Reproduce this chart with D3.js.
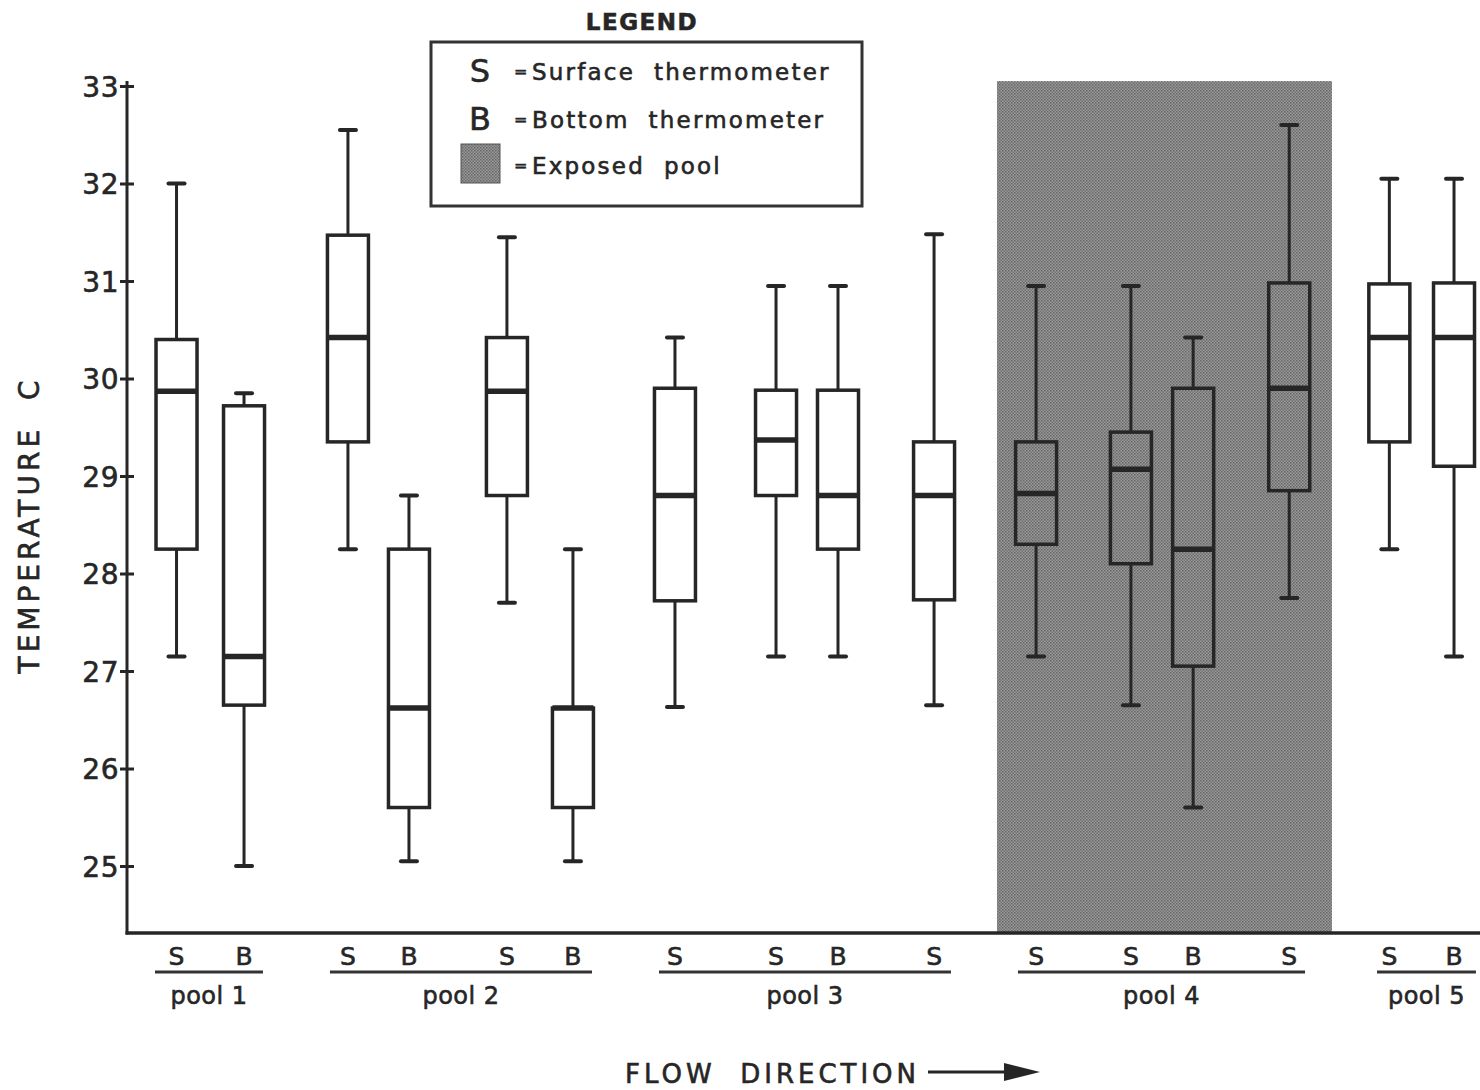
<!DOCTYPE html>
<html>
<head>
<meta charset="utf-8">
<script src="https://cdn.jsdelivr.net/npm/d3@7"></script>
<style>
  body { margin: 0; background: #fff; }
  svg text { font-family: "DejaVu Sans", sans-serif; fill: #262626; stroke: #262626; stroke-width: 0.6px; }
</style>
</head>
<body>
<div id="chart"></div>
<script>
// box data (temperature C)
var thermo   = ["S","B","S","B","S","B","S","S","B","S","S","S","B","S","S","B"];
var xPos     = [3.66, 8.65, 16.33, 20.84, 28.08, 32.96, 40.5, 47.97, 52.55, 59.65, 67.19, 74.2, 78.8, 85.9, 93.3, 98.08];
var whiskLo  = [27.15, 25.0, 28.25, 25.05, 27.7, 25.05, 26.63, 27.15, 27.15, 26.65, 27.15, 26.65, 25.6, 27.75, 28.25, 27.15];
var q1       = [28.25, 26.65, 29.35, 25.6, 28.8, 25.6, 27.72, 28.8, 28.25, 27.73, 28.3, 28.1, 27.05, 28.85, 29.35, 29.1];
var median   = [29.87, 27.15, 30.42, 26.62, 29.87, 26.62, 28.8, 29.37, 28.8, 28.8, 28.82, 29.07, 28.25, 29.9, 30.42, 30.42];
var q3       = [30.4, 29.72, 31.47, 28.25, 30.42, 26.62, 29.9, 29.88, 29.88, 29.35, 29.35, 29.45, 29.9, 30.98, 30.97, 30.98];
var whiskHi  = [32.0, 29.85, 32.55, 28.8, 31.45, 28.25, 30.42, 30.95, 30.95, 31.48, 30.95, 30.95, 30.42, 32.6, 32.05, 32.05];

var pools     = ["pool 1", "pool 2", "pool 3", "pool 4", "pool 5"];
var poolStart = [2.07, 15.0, 39.32, 65.85, 92.39];
var poolEnd   = [10.05, 34.37, 60.9, 87.07, 99.7];
var exposed   = [64.3, 89.06];   // pool 4 shaded span

var yTicks = [25, 26, 27, 28, 29, 30, 31, 32, 33];

var W = 1480, H = 1090;
var mLeft = 127, mRight = 1480, mTop = 86, mBottom = 933;

var svg = d3.select("#chart").append("svg")
    .attr("width", W).attr("height", H);

var defs = svg.append("defs");
var pat = defs.append("pattern")
    .attr("id", "stip").attr("width", 3).attr("height", 3)
    .attr("patternUnits", "userSpaceOnUse");
pat.append("rect").attr("width", 3).attr("height", 3).attr("fill", "#999");
pat.append("rect").attr("width", 1.5).attr("height", 1.5).attr("fill", "#666");
pat.append("rect").attr("x", 1.5).attr("y", 1.5).attr("width", 1.5).attr("height", 1.5).attr("fill", "#727272");

var x = d3.scaleLinear().domain([0, 100]).range([mLeft, mRight]);
var y = d3.scaleLinear().domain([24.313, 33]).range([mBottom, mTop]);

// exposed pool shading
svg.append("rect")
    .attr("x", x(exposed[0]))
    .attr("y", y(33.05))
    .attr("width", x(exposed[1]) - x(exposed[0]))
    .attr("height", y(24.313) - y(33.05))
    .attr("fill", "url(#stip)");

// y axis
var yAxis = svg.append("g")
    .attr("transform", "translate(" + mLeft + ",0)")
    .call(d3.axisLeft(y).tickValues(yTicks).tickSize(7).tickFormat(d3.format("d")));
yAxis.select(".domain").remove();
yAxis.selectAll(".tick line").attr("x1", -7).attr("x2", 7)
    .attr("stroke", "#262626").attr("stroke-width", 3);
yAxis.selectAll(".tick text")
    .attr("x", -8).attr("dy", "0.36em")
    .style("font-size", "28px").style("letter-spacing", "0.5px");

svg.append("line")
    .attr("x1", mLeft).attr("x2", mLeft)
    .attr("y1", y(33.05)).attr("y2", mBottom + 1.5)
    .attr("stroke", "#262626").attr("stroke-width", 3);
svg.append("line")
    .attr("x1", mLeft - 1.5).attr("x2", mRight)
    .attr("y1", mBottom).attr("y2", mBottom)
    .attr("stroke", "#262626").attr("stroke-width", 3.5);

// boxes
var boxW = 41, capW = 16;
var data = thermo.map(function(t, i) {
    return {t: t, x: xPos[i], lo: whiskLo[i], q1: q1[i], med: median[i], q3: q3[i], hi: whiskHi[i]};
});

var g = svg.selectAll(".box").data(data).enter().append("g").attr("class", "box");

g.append("line")
    .attr("x1", function(d) { return x(d.x); })
    .attr("x2", function(d) { return x(d.x); })
    .attr("y1", function(d) { return y(d.hi); })
    .attr("y2", function(d) { return y(d.lo); })
    .attr("stroke", "#262626").attr("stroke-width", 3);

g.selectAll(".cap")
    .data(function(d) { return [[d.x, d.hi], [d.x, d.lo]]; })
    .enter().append("line")
    .attr("x1", function(d) { return x(d[0]) - capW / 2; })
    .attr("x2", function(d) { return x(d[0]) + capW / 2; })
    .attr("y1", function(d) { return y(d[1]); })
    .attr("y2", function(d) { return y(d[1]); })
    .attr("stroke", "#262626").attr("stroke-width", 4).attr("stroke-linecap", "round");

g.append("rect")
    .attr("x", function(d) { return x(d.x) - boxW / 2; })
    .attr("y", function(d) { return y(d.q3); })
    .attr("width", boxW)
    .attr("height", function(d) { return y(d.q1) - y(d.q3); })
    .attr("fill", function(d) { return (d.x > exposed[0] && d.x < exposed[1]) ? "url(#stip)" : "#fff"; })
    .attr("stroke", "#262626").attr("stroke-width", 3.5);

g.append("line")
    .attr("x1", function(d) { return x(d.x) - boxW / 2; })
    .attr("x2", function(d) { return x(d.x) + boxW / 2; })
    .attr("y1", function(d) { return y(d.med); })
    .attr("y2", function(d) { return y(d.med); })
    .attr("stroke", "#262626").attr("stroke-width", 5.5);

// S / B labels under each box
svg.selectAll(".tlab").data(data).enter().append("text")
    .attr("class", "tlab")
    .attr("x", function(d) { return x(d.x); })
    .attr("y", 965)
    .attr("text-anchor", "middle")
    .style("font-size", "25px")
    .text(function(d) { return d.t; });

// pool underlines and names
pools.forEach(function(p, i) {
    svg.append("line")
        .attr("x1", x(poolStart[i])).attr("x2", x(poolEnd[i]))
        .attr("y1", 972).attr("y2", 972)
        .attr("stroke", "#333").attr("stroke-width", 3);
    svg.append("text")
        .attr("x", (x(poolStart[i]) + x(poolEnd[i])) / 2)
        .attr("y", 1004)
        .attr("text-anchor", "middle")
        .style("font-size", "24px").style("letter-spacing", "0.5px")
        .text(p);
});

// y label
svg.append("text")
    .attr("transform", "translate(39,525) rotate(-90)")
    .attr("text-anchor", "middle")
    .style("font-size", "28px").style("letter-spacing", "4px")
    .attr("xml:space", "preserve")
    .text("TEMPERATURE  C");

// flow direction
svg.append("text")
    .attr("x", 625).attr("y", 1083)
    .style("font-size", "26px").style("letter-spacing", "4px")
    .attr("xml:space", "preserve")
    .text("FLOW  DIRECTION");
svg.append("line")
    .attr("x1", 928).attr("x2", 1012).attr("y1", 1072).attr("y2", 1072)
    .attr("stroke", "#262626").attr("stroke-width", 3);
svg.append("path")
    .attr("d", "M1004,1063 L1040,1072 L1004,1081 Z")
    .attr("fill", "#262626");

// legend
svg.append("text")
    .attr("x", 642).attr("y", 30)
    .attr("text-anchor", "middle")
    .style("font-size", "23px").style("font-weight", "bold").style("letter-spacing", "1.5px")
    .text("LEGEND");
svg.append("rect")
    .attr("x", 431).attr("y", 42).attr("width", 431).attr("height", 164)
    .attr("fill", "#fff").attr("stroke", "#333").attr("stroke-width", 3);

var legRows = [
    {sym: "S", label: "Surface  thermometer", yy: 80},
    {sym: "B", label: "Bottom  thermometer", yy: 128},
    {sym: null, label: "Exposed  pool", yy: 174}
];
legRows.forEach(function(r) {
    if (r.sym) {
        svg.append("text")
            .attr("x", 480).attr("y", r.yy + 2)
            .attr("text-anchor", "middle")
            .style("font-size", "32px")
            .text(r.sym);
    } else {
        svg.append("rect")
            .attr("x", 461).attr("y", 144).attr("width", 39).attr("height", 39)
            .attr("fill", "url(#stip)").attr("stroke", "#555").attr("stroke-width", 1);
    }
    svg.append("text")
        .attr("x", 514).attr("y", r.yy - 3)
        .style("font-size", "16px")
        .text("=");
    svg.append("text")
        .attr("x", 532).attr("y", r.yy)
        .attr("xml:space", "preserve")
        .style("font-size", "23px").style("letter-spacing", "2.2px")
        .text(r.label);
});
</script>
</body>
</html>
